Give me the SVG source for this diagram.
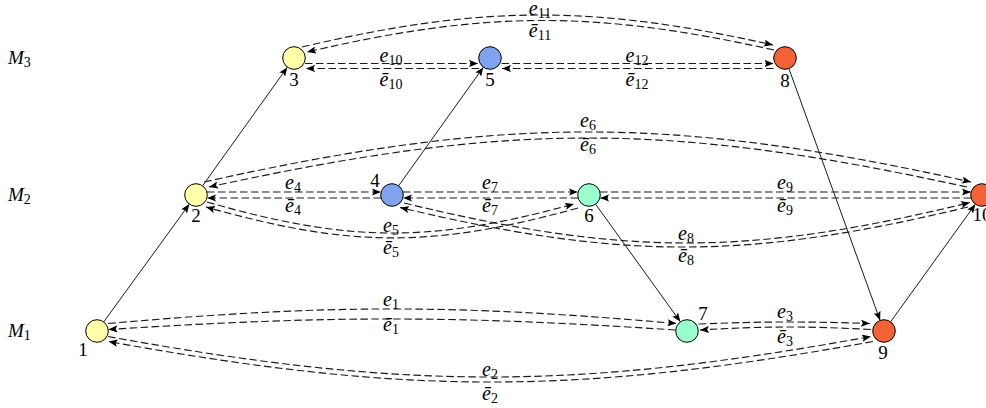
<svg xmlns="http://www.w3.org/2000/svg" width="986" height="408" viewBox="0 0 986 408">
  <style>
    .bg { fill: #ffffff; }
    .node { stroke: #000; stroke-width: 1; }
    .yellow { fill: #ffffaa; }
    .blue { fill: #7fa3ee; }
    .green { fill: #99ffcc; }
    .orange { fill: #f26234; }
    .solid { fill: none; stroke: #000; stroke-width: 0.9; }
    .dash { fill: none; stroke: #1a1a1a; stroke-width: 1.15; stroke-dasharray: 7.5 3.5; }
    text { font-family: "Liberation Serif", "Times New Roman", serif; font-size: 19px; fill: #000; }
    .num { text-anchor: middle; }
    .lbl { text-anchor: middle; font-size: 20px; }
    .it { font-style: italic; }
    .sub { font-size: 14px; font-style: normal; }
  </style>
  <defs>
    <marker id="arr" viewBox="0 0 10 8" refX="10" refY="4" markerWidth="9" markerHeight="7.2" markerUnits="userSpaceOnUse" orient="auto">
      <path d="M0,0 L10,4 L0,8 L2,4 z" fill="#000"/>
    </marker>
  </defs>
  <rect class="bg" x="0" y="0" width="986" height="408"/>

  <!-- level labels -->
  <g id="levels">
    <text x="8" y="64"><tspan class="it">M</tspan><tspan class="sub" dy="3">3</tspan></text>
    <text x="8" y="201"><tspan class="it">M</tspan><tspan class="sub" dy="3">2</tspan></text>
    <text x="8" y="337"><tspan class="it">M</tspan><tspan class="sub" dy="3">1</tspan></text>
  </g>

  <g id="connectors">
    <!-- solid transitions between levels -->
    <path class="solid" marker-end="url(#arr)" d="M103.7,321.9 L189.4,204.1"/>
    <path class="solid" marker-end="url(#arr)" d="M202.6,185.8 L287.4,67.2"/>
    <path class="solid" marker-end="url(#arr)" d="M398.6,185.8 L483.4,67.2"/>
    <path class="solid" marker-end="url(#arr)" d="M595.6,204.2 L680.4,321.8"/>
    <path class="solid" marker-end="url(#arr)" d="M788.9,68.6 L880.1,320.4"/>
    <path class="solid" marker-end="url(#arr)" d="M890.6,321.8 L975.4,204.2"/>

    <!-- e1 / e1-bar : 1 <-> 7 -->
    <path class="dash" marker-end="url(#arr)" d="M108,323.5 C330,304.1 454.5,304.1 676.5,323.5"/>
    <path class="dash" marker-end="url(#arr)" d="M675.5,330 C454.5,315.4 329.5,315.4 108.5,329.5"/>
    <!-- e2 / e2-bar : 1 <-> 9 -->
    <path class="dash" marker-end="url(#arr)" d="M108,336.5 C405.6,390.5 573.4,390.5 871,336.5"/>
    <path class="dash" marker-end="url(#arr)" d="M873,341.5 C575,395.5 406.5,395.5 108.5,341.5"/>
    <!-- e3 / e3-bar : 7 <-> 9 -->
    <path class="dash" marker-end="url(#arr)" d="M698.5,324 C765.5,321.4 803,321.4 870,323.5"/>
    <path class="dash" marker-end="url(#arr)" d="M871,329.5 C804,326.1 767,326.1 700,330"/>
    <!-- e4 / e4-bar : 2 <-> 4 -->
    <path class="dash" marker-end="url(#arr)" d="M207,192 L381,192"/>
    <path class="dash" marker-end="url(#arr)" d="M381,198 L207,198"/>
    <!-- e5 / e5-bar : 2 <-> 6 -->
    <path class="dash" marker-end="url(#arr)" d="M207,202 C350,243 431,243 574,204"/>
    <path class="dash" marker-end="url(#arr)" d="M578,208 C433,248 351,248 206,207"/>
    <!-- e6 / e6-bar : 2 <-> 10 -->
    <path class="dash" marker-end="url(#arr)" d="M204,182 C504,115.3 671,115.3 971,182"/>
    <path class="dash" marker-end="url(#arr)" d="M967,187 C667,121.7 509,121.7 209,187"/>
    <!-- e7 / e7-bar : 4 <-> 6 -->
    <path class="dash" marker-end="url(#arr)" d="M403,192 L578,192"/>
    <path class="dash" marker-end="url(#arr)" d="M578,198 L403,198"/>
    <!-- e8 / e8-bar : 4 <-> 10 -->
    <path class="dash" marker-end="url(#arr)" d="M404,203 C625,256.4 749,256.4 970,202.5"/>
    <path class="dash" marker-end="url(#arr)" d="M968,207 C746.5,260.3 621.5,260.3 400,207.5"/>
    <!-- e9 / e9-bar : 6 <-> 10 -->
    <path class="dash" marker-end="url(#arr)" d="M600,192 L971,192"/>
    <path class="dash" marker-end="url(#arr)" d="M971,198 L600,198"/>
    <!-- e10 / e10-bar : 3 <-> 5 -->
    <path class="dash" marker-end="url(#arr)" d="M305,63.5 L478,63.5"/>
    <path class="dash" marker-end="url(#arr)" d="M479,68.5 L306,68.5"/>
    <!-- e11 / e11-bar : 3 <-> 8 -->
    <path class="dash" marker-end="url(#arr)" d="M302,47 C482,4.7 593,4.7 773,45"/>
    <path class="dash" marker-end="url(#arr)" d="M774,50 C594,10.3 487,10.3 307,52"/>
    <!-- e12 / e12-bar : 5 <-> 8 -->
    <path class="dash" marker-end="url(#arr)" d="M501.5,63.5 L773.5,63.5"/>
    <path class="dash" marker-end="url(#arr)" d="M773.5,68.5 L502,68.5"/>
  </g>

  <g id="edge-labels">
    <text class="lbl" x="391" y="306"><tspan class="it">e</tspan><tspan class="sub" dy="3">1</tspan></text>
    <text class="lbl" x="391" y="331"><tspan class="it">ē</tspan><tspan class="sub" dy="3">1</tspan></text>
    <text class="lbl" x="490" y="376"><tspan class="it">e</tspan><tspan class="sub" dy="3">2</tspan></text>
    <text class="lbl" x="490" y="400"><tspan class="it">ē</tspan><tspan class="sub" dy="3">2</tspan></text>
    <text class="lbl" x="785" y="318"><tspan class="it">e</tspan><tspan class="sub" dy="3">3</tspan></text>
    <text class="lbl" x="785" y="343"><tspan class="it">ē</tspan><tspan class="sub" dy="3">3</tspan></text>
    <text class="lbl" x="293" y="189"><tspan class="it">e</tspan><tspan class="sub" dy="3">4</tspan></text>
    <text class="lbl" x="293" y="212"><tspan class="it">ē</tspan><tspan class="sub" dy="3">4</tspan></text>
    <text class="lbl" x="391" y="232"><tspan class="it">e</tspan><tspan class="sub" dy="3">5</tspan></text>
    <text class="lbl" x="391" y="254"><tspan class="it">ē</tspan><tspan class="sub" dy="3">5</tspan></text>
    <text class="lbl" x="588" y="127"><tspan class="it">e</tspan><tspan class="sub" dy="3">6</tspan></text>
    <text class="lbl" x="588" y="151"><tspan class="it">ē</tspan><tspan class="sub" dy="3">6</tspan></text>
    <text class="lbl" x="490" y="189"><tspan class="it">e</tspan><tspan class="sub" dy="3">7</tspan></text>
    <text class="lbl" x="490" y="212"><tspan class="it">ē</tspan><tspan class="sub" dy="3">7</tspan></text>
    <text class="lbl" x="686" y="240"><tspan class="it">e</tspan><tspan class="sub" dy="3">8</tspan></text>
    <text class="lbl" x="686" y="262"><tspan class="it">ē</tspan><tspan class="sub" dy="3">8</tspan></text>
    <text class="lbl" x="785" y="189"><tspan class="it">e</tspan><tspan class="sub" dy="3">9</tspan></text>
    <text class="lbl" x="785" y="212"><tspan class="it">ē</tspan><tspan class="sub" dy="3">9</tspan></text>
    <text class="lbl" x="391" y="62"><tspan class="it">e</tspan><tspan class="sub" dy="3">10</tspan></text>
    <text class="lbl" x="391" y="86"><tspan class="it">ē</tspan><tspan class="sub" dy="3">10</tspan></text>
    <text class="lbl" x="540" y="14.5"><tspan class="it">e</tspan><tspan class="sub" dy="3">11</tspan></text>
    <text class="lbl" x="540" y="37"><tspan class="it">ē</tspan><tspan class="sub" dy="3">11</tspan></text>
    <text class="lbl" x="637" y="62"><tspan class="it">e</tspan><tspan class="sub" dy="3">12</tspan></text>
    <text class="lbl" x="637" y="86"><tspan class="it">ē</tspan><tspan class="sub" dy="3">12</tspan></text>
  </g>

  <g id="n1"><circle class="node yellow" cx="97" cy="331" r="11.3"/><text class="num" x="83" y="356">1</text></g>
  <g id="n2"><circle class="node yellow" cx="196" cy="195" r="11.3"/><text class="num" x="196" y="222">2</text></g>
  <g id="n3"><circle class="node yellow" cx="294" cy="58" r="11.3"/><text class="num" x="294" y="86">3</text></g>
  <g id="n4"><circle class="node blue" cx="392" cy="195" r="11.3"/><text class="num" x="375" y="187">4</text></g>
  <g id="n5"><circle class="node blue" cx="490" cy="58" r="11.3"/><text class="num" x="490" y="86">5</text></g>
  <g id="n6"><circle class="node green" cx="589" cy="195" r="11.3"/><text class="num" x="589" y="222">6</text></g>
  <g id="n7"><circle class="node green" cx="687" cy="331" r="11.3"/><text class="num" x="703" y="320">7</text></g>
  <g id="n8"><circle class="node orange" cx="785" cy="58" r="11.3"/><text class="num" x="785" y="87">8</text></g>
  <g id="n9"><circle class="node orange" cx="884" cy="331" r="11.3"/><text class="num" x="883" y="359">9</text></g>
  <g id="n10"><circle class="node orange" cx="982" cy="195" r="11.3"/><text class="num" x="982" y="221">10</text></g>
</svg>
